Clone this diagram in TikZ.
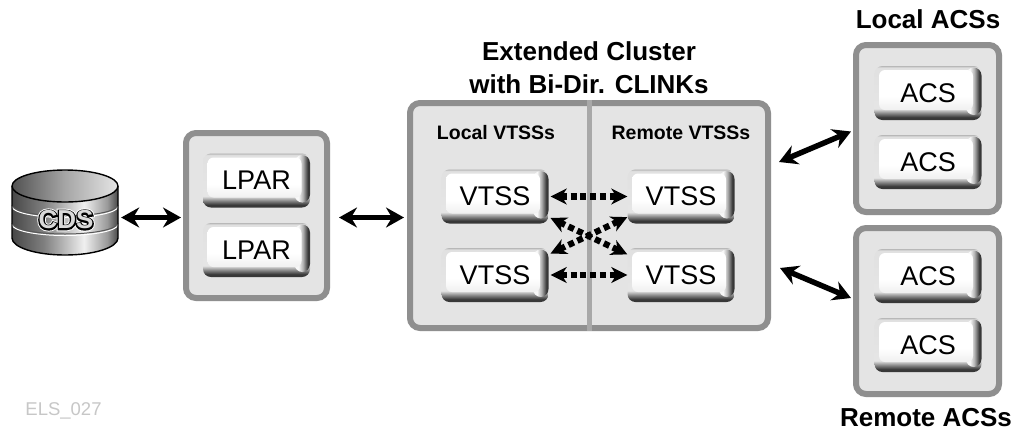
\documentclass[tikz,border=0pt]{standalone}
\usepackage{fontspec}
\setmainfont{Liberation Sans}
\newfontfamily\cdsblack[FakeBold=11]{Liberation Sans Bold}
\newfontfamily\cdswhite[FakeBold=18]{Liberation Sans Bold}
\newfontfamily\cdsfill{Liberation Sans Bold}
\usetikzlibrary{arrows.meta,calc}
\definecolor{panelfill}{HTML}{E4E4E4}
\definecolor{panelline}{HTML}{8F8F8F}
\definecolor{divider}{HTML}{A8A8A8}
\newcommand{\fs}[1]{\fontsize{#1}{#1}\selectfont}
\pgfdeclareverticalshading{btnbase}{100bp}{
  color(0bp)=(black!78); color(27.5bp)=(black!78); color(31bp)=(black!50); color(35.5bp)=(black!10); color(73.5bp)=(black!12); color(75bp)=(black!28); color(100bp)=(black!28)}
\pgfdeclarehorizontalshading{btnside}{100bp}{
  color(0bp)=(black!3); color(38bp)=(black!3); color(52bp)=(black!30); color(68bp)=(black!78); color(100bp)=(black!78)}
\pgfdeclareverticalshading{btnface}{100bp}{
  color(0bp)=(black!6); color(25bp)=(black!6); color(42bp)=(white); color(100bp)=(white)}
\pgfdeclarehorizontalshading{cylbody}{100bp}{
  color(0bp)=(black!72); color(25bp)=(black!72); color(40bp)=(black!50); color(59bp)=(black!6); color(70bp)=(black!40); color(75bp)=(black!72); color(100bp)=(black!72)}
\pgfdeclarehorizontalshading{cyltop}{100bp}{
  color(0bp)=(black!68); color(25bp)=(black!68); color(50bp)=(black!35); color(75bp)=(black!10); color(100bp)=(black!10)}
\tikzset{
  x=1pt,y=-1pt,
  panel/.style={draw=panelline,line width=6pt,fill=panelfill,rounded corners=10pt,inner sep=0pt,minimum width=#1},
  title/.style={font=\bfseries\fs{26},align=center,inner sep=0pt},
  subtitle/.style={font=\bfseries\fs{19.5},inner sep=0pt},
  biarrow/.style={line width=5.5pt,{Stealth[length=18pt,width=20pt,inset=6pt]}-{Stealth[length=18pt,width=20pt,inset=6pt]}},
  dotarrow/.style={line width=6.2pt,dash pattern=on 6pt off 3.8pt,{Stealth[length=16pt,width=16pt,inset=5pt]}-{Stealth[length=16pt,width=16pt,inset=5pt]}},
}
\newcommand{\button}[4]{%
  \path[rounded corners=8pt,shading=btnbase]
     (#2-53.5,#3-27) rectangle (#2+53.5,#3+27);
  \path[rounded corners=8pt,shading=btnside]
     (#2+38,#3-25.5) rectangle (#2+53.5,#3+22);
  \path[rounded corners=6pt,shading=btnface]
     (#2-49,#3-23) rectangle (#2+45,#3+17);
  \node[inner sep=0pt,font=\fs{27},minimum width=107pt,minimum height=54pt] (#1) at (#2,#3) {\raisebox{0.5pt}{#4}};
}
\begin{document}
\begin{tikzpicture}
\useasboundingbox (0,0) rectangle (1018,432);
\fill[white] (0,0) rectangle (1018,432);

% CDS cylinder
\path[shading=cylbody]
  (12,186) -- (12,238) .. controls (12,247.4) and (35.7,255) .. (65,255) .. controls (94.3,255) and (118,247.4) .. (118,238) -- (118,186) -- cycle;
\path[shading=cyltop]
  (12,186) .. controls (12,177.2) and (35.7,170) .. (65,170) .. controls (94.3,170) and (118,177.2) .. (118,186)
  .. controls (118,194.8) and (94.3,202) .. (65,202) .. controls (35.7,202) and (12,194.8) .. (12,186) -- cycle;
\foreach \yy in {205,223}{
  \draw[black!65,line width=1pt] (12,\yy) .. controls (12,\yy+6) and (35.7,\yy+11) .. (65,\yy+11) .. controls (94.3,\yy+11) and (118,\yy+6) .. (118,\yy);
  \draw[white,line width=1pt] (12,\yy+1.5) .. controls (12,\yy+7.5) and (35.7,\yy+12.5) .. (65,\yy+12.5) .. controls (94.3,\yy+12.5) and (118,\yy+7.5) .. (118,\yy+1.5);
}
\draw[black,line width=1.4pt] (12,186) .. controls (12,194.8) and (35.7,202) .. (65,202) .. controls (94.3,202) and (118,194.8) .. (118,186);
\draw[black,line width=1.4pt] (12,186) .. controls (12,177.2) and (35.7,170) .. (65,170) .. controls (94.3,170) and (118,177.2) .. (118,186)
  -- (118,238) .. controls (118,247.4) and (94.3,255) .. (65,255) .. controls (35.7,255) and (12,247.4) .. (12,238) -- cycle;
\node[inner sep=0pt,minimum width=106pt,minimum height=85pt] (cds) at (65,212.5) {};
\node[inner sep=0pt,font=\fs{26}] (cdslabel) at (66,220)
  {\rlap{\cdswhite\color{white}CDS}\rlap{\cdsblack\color{black}CDS}{\cdsfill\color{black!15}CDS}};

% panels
\node[panel=141pt,minimum height=165pt] (lparp) at (256.5,215.5) {};
\node[panel=358pt,minimum height=225pt] (big) at (589,215.5) {};
\draw[divider,line width=5pt] (big.north) -- (big.south);
\node[panel=143pt,minimum height=167pt] (lacs) at (927.5,128.5) {};
\node[panel=143pt,minimum height=166pt] (racs) at (927.5,311) {};

% buttons
\button{lpara}{256.5}{180.5}{LPAR}
\button{lparb}{256.5}{250}{LPAR}
\button{va}{495}{196.5}{VTSS}
\button{vb}{681}{196.5}{VTSS}
\button{vc}{495}{275}{VTSS}
\button{vd}{681}{275}{VTSS}
\button{acsa}{928}{93}{ACS}
\button{acsb}{928}{162}{ACS}
\button{acsc}{928}{276}{ACS}
\button{acsd}{928}{345}{ACS}

% titles
\node[title] (t1) at (589,68) {Extended Cluster\\[7pt]with Bi-Dir. CLINKs};
\node[title] (t2) at (928,19) {Local ACSs};
\node[title] (t3) at (926,418) {Remote ACSs};
\node[subtitle] (t4) at (496,132.5) {Local VTSSs};
\node[subtitle] (t5) at (681,132.5) {Remote VTSSs};
\node[inner sep=0pt,font=\fs{18.5},text=black!22] (els) at (63.5,411) {ELS\_027};

% connectors
\coordinate (c1) at ($(cds.east |- lparp.west)+(3,2)$);
\coordinate (c2) at ($(lparp.west)+(-2,2)$);
\draw[biarrow] (c1) -- (c2);
\coordinate (c3) at ($(lparp.east)+(9,2)$);
\coordinate (c4) at ($(big.west)+(-3,2)$);
\draw[biarrow] (c3) -- (c4);
\coordinate (c5) at ($(big.north east)+(8,62)$);
\coordinate (c6) at ($(lacs.west)+(-2,3)$);
\draw[biarrow] (c5) -- (c6);
\coordinate (c7) at ($(big.south east)+(9,-63)$);
\coordinate (c8) at ($(racs.west)+(-2,-13)$);
\draw[biarrow] (c7) -- (c8);

\draw[dotarrow,shorten <=2pt,shorten >=0pt] (va.east) -- (vb.west);
\draw[dotarrow,shorten <=2pt,shorten >=0pt] (vc.east) -- (vd.west);
\draw[dotarrow,shorten <=2pt] (va.-21) -- (vd.159);
\draw[dotarrow,shorten <=2pt] (vc.21) -- (vb.201);
\end{tikzpicture}
\end{document}
